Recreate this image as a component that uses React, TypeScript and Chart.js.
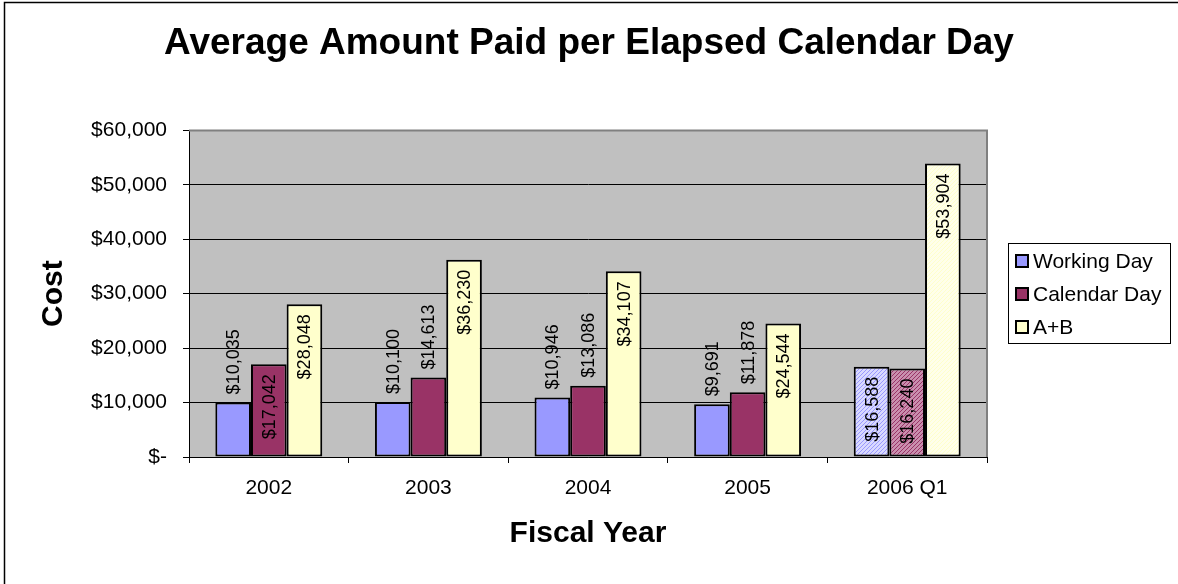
import React, { useEffect, useRef } from "react";
import { Chart, registerables } from "chart.js";

Chart.register(...registerables);

const categories = ["2002", "2003", "2004", "2005", "2006 Q1"];
const workingDay = [10035, 10100, 10946, 9691, 16588];
const calendarDay = [17042, 14613, 13086, 11878, 16240];
const aPlusB = [28048, 36230, 34107, 24544, 53904];
const seriesNames = ["Working Day", "Calendar Day", "A+B"];
const seriesColors = ["#9999FF", "#993366", "#FFFFCC"];
const hatchedIndex = 4;

const FONT = "'Liberation Sans', Arial, sans-serif";

function money(v: number) {
  return "$" + v.toLocaleString("en-US");
}

function makePattern(base: string, light: string) {
  const c = document.createElement("canvas");
  c.width = 4;
  c.height = 4;
  const g = c.getContext("2d")!;
  g.fillStyle = light;
  g.fillRect(0, 0, 4, 4);
  g.fillStyle = base;
  for (let i = 0; i < 4; i++) {
    g.fillRect(i, 3 - i, 1, 1);
  }
  return g.createPattern(c, "repeat")!;
}

const decorPlugin = {
  id: "decor",
  beforeDraw(chart: any) {
    const { ctx, chartArea, width, height } = chart;
    ctx.save();
    ctx.fillStyle = "#FFFFFF";
    ctx.fillRect(0, 0, width, height);
    ctx.fillStyle = "#C0C0C0";
    ctx.fillRect(chartArea.left, chartArea.top, chartArea.right - chartArea.left, chartArea.bottom - chartArea.top);
    ctx.strokeStyle = "#000000";
    ctx.lineWidth = 1.5;
    ctx.beginPath();
    ctx.moveTo(4.5, height + 5);
    ctx.lineTo(4.5, 2.5);
    ctx.lineTo(width + 5, 2.5);
    ctx.stroke();
    ctx.restore();
  },
  beforeDatasetsDraw(chart: any) {
    const { ctx, chartArea } = chart;
    ctx.save();
    ctx.strokeStyle = "#808080";
    ctx.lineWidth = 2;
    ctx.beginPath();
    ctx.moveTo(chartArea.left, chartArea.top);
    ctx.lineTo(chartArea.right, chartArea.top);
    ctx.lineTo(chartArea.right, chartArea.bottom);
    ctx.stroke();
    ctx.restore();
  },
  afterDatasetsDraw(chart: any) {
    const { ctx } = chart;
    ctx.save();
    ctx.font = "18px " + FONT;
    ctx.fillStyle = "#000000";
    ctx.textBaseline = "middle";
    chart.data.datasets.forEach((ds: any, di: number) => {
      const meta = chart.getDatasetMeta(di);
      meta.data.forEach((bar: any, i: number) => {
        const v = ds.data[i];
        const text = money(v);
        const tw = ctx.measureText(text).width;
        const h = bar.base - bar.y;
        ctx.save();
        if (h > tw + 20) {
          ctx.translate(bar.x + 1, bar.y + 10);
          ctx.rotate(-Math.PI / 2);
          ctx.textAlign = "right";
        } else {
          ctx.translate(bar.x + 1, bar.y - 8);
          ctx.rotate(-Math.PI / 2);
          ctx.textAlign = "left";
        }
        ctx.fillText(text, 0, 0);
        ctx.restore();
      });
    });
    ctx.restore();
  },
  afterDraw(chart: any) {
    const { ctx } = chart;
    ctx.save();
    const lx = 1008, ly = 243, lw = 162, lh = 100;
    ctx.fillStyle = "#FFFFFF";
    ctx.fillRect(lx, ly, lw, lh);
    ctx.strokeStyle = "#000000";
    ctx.lineWidth = 1;
    ctx.strokeRect(lx + 0.5, ly + 0.5, lw, lh);
    ctx.font = "21px " + FONT;
    ctx.textBaseline = "middle";
    ctx.textAlign = "left";
    chart.data.datasets.forEach((ds: any, di: number) => {
      const cy = ly + 18 + di * 33;
      ctx.fillStyle = seriesColors[di];
      ctx.fillRect(lx + 8, cy - 6, 12, 12);
      ctx.lineWidth = 2;
      ctx.strokeStyle = "#000000";
      ctx.strokeRect(lx + 8, cy - 6, 12, 12);
      ctx.fillStyle = "#000000";
      ctx.fillText(ds.label, lx + 25, cy + 1);
    });
    ctx.restore();
  },
};

export default function App() {
  const ref = useRef<HTMLCanvasElement>(null);
  useEffect(() => {
    const canvas = ref.current!;
    const bg = (idx: number) => {
      const light = ["#D9D9FF", "#C98FAE", "#FFFFEA"][idx];
      return categories.map((_, i) =>
        i === hatchedIndex ? makePattern(seriesColors[idx], light) : seriesColors[idx]
      );
    };
    const values = [workingDay, calendarDay, aPlusB];
    const chart = new Chart(canvas, {
      type: "bar",
      data: {
        labels: categories,
        datasets: values.map((d, idx) => ({
          label: seriesNames[idx],
          data: d,
          backgroundColor: bg(idx),
          borderColor: "#000000",
          borderWidth: 2,
          borderSkipped: false,
          categoryPercentage: 0.67,
          barPercentage: 1,
        })),
      },
      options: {
        responsive: false,
        animation: false,
        devicePixelRatio: 1,
        layout: { padding: 0 },
        plugins: {
          legend: { display: false },
          tooltip: { enabled: false },
          title: {
            display: true,
            text: "Average Amount Paid per Elapsed Calendar Day",
            color: "#000000",
            font: { family: FONT, size: 37, weight: "bold" },
            padding: { top: 22, bottom: 64 },
          },
        },
        scales: {
          x: {
            offset: true,
            grid: {
              offset: true,
              drawOnChartArea: false,
              drawTicks: true,
              tickLength: 6,
              color: "#000000",
              lineWidth: 1,
            },
            border: { color: "#000000", width: 1 },
            ticks: { color: "#000000", font: { family: FONT, size: 21 }, padding: 13, maxRotation: 0 },
            title: {
              display: true,
              text: "Fiscal Year",
              color: "#000000",
              font: { family: FONT, size: 30, weight: "bold" },
              padding: { top: 0, bottom: 32 },
            },
            afterFit(scale: any) {
              scale.height = 127;
            },
          },
          y: {
            min: 0,
            max: 60000,
            ticks: {
              stepSize: 10000,
              color: "#000000",
              font: { family: FONT, size: 21 },
              padding: 16,
              callback: (v: any) => (Number(v) === 0 ? "$-" : money(Number(v))),
            },
            grid: {
              color: (c: any) => (c.tick && c.tick.value === 60000 ? "#808080" : "#000000"),
              tickColor: "#000000",
              lineWidth: 1,
              drawTicks: true,
              tickLength: 6,
            },
            border: { color: "#000000", width: 1 },
            title: {
              display: true,
              text: "Cost",
              color: "#000000",
              font: { family: FONT, size: 30, weight: "bold" },
              padding: { top: 36, bottom: 0 },
            },
            afterFit(scale: any) {
              scale.width = 189;
            },
          },
          legendSpace: {
            position: "right",
            min: 0,
            max: 60000,
            ticks: { display: false },
            grid: { display: false },
            border: { display: false },
            afterFit(scale: any) {
              scale.width = 191;
            },
          },
        },
      },
      plugins: [decorPlugin],
    });
    return () => chart.destroy();
  }, []);
  return (
    <div style={{ position: "fixed", left: 0, top: 0, width: 1178, height: 584, background: "#fff" }}>
      <canvas ref={ref} width={1178} height={584} style={{ display: "block" }} />
    </div>
  );
}
